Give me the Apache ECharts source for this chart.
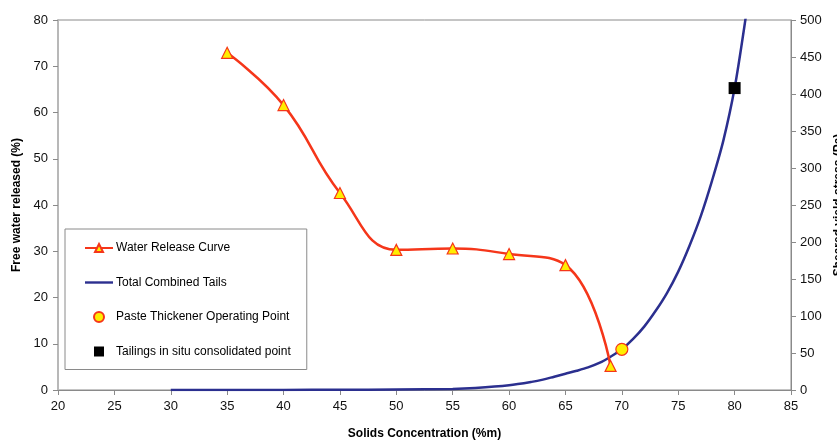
<!DOCTYPE html>
<html><head><meta charset="utf-8">
<script src="https://cdn.jsdelivr.net/npm/echarts@6/dist/echarts.min.js"></script>
<style>html,body{margin:0;padding:0;background:#fff}#c{width:837px;height:440px}</style>
</head><body><div id="c"></div>
<script>
const waterX = [35, 40, 45, 50, 55, 60, 65, 69];
const waterY = [72.9, 61.6, 42.6, 30.3, 30.6, 29.4, 27.0, 5.2];
const tailsX = [30, 35, 40, 45, 50, 55, 57, 60, 62, 63, 64, 65, 66, 67, 68, 69, 70, 71, 72, 73, 74, 75, 76, 77, 78, 79, 80, 81, 81.3];
const tailsY = [0, 0.02, 0.1, 0.3, 0.7, 1.5, 2.8, 6.5, 11, 14, 18, 22, 26, 30.5, 36.5, 45, 55, 69, 86, 107, 131, 160, 195, 235, 283, 337, 408, 505, 540];
const pasteX = [70], pasteY = [55];
const insituX = [80], insituY = [408];
const xTicks = {min: 20, max: 85, interval: 5};
const yLeftTicks = {min: 0, max: 80, interval: 10};
const yRightTicks = {min: 0, max: 500, interval: 50};

const zip = (a, b) => a.map((v, i) => [v, b[i]]);
const font = 'Arial, "Liberation Sans", sans-serif';
const red = '#f5361a', blue = '#2b2f8f';

const chart = echarts.init(document.getElementById('c'), null, {renderer: 'canvas'});
chart.setOption({
  animation: false,
  backgroundColor: '#fff',
  textStyle: {fontFamily: font},
  grid: {left: 58, right: 46, top: 20, bottom: 50, containLabel: false, outerBoundsMode: 'none',
         show: true, borderColor: '#8a8a8a', borderWidth: 1, backgroundColor: 'transparent'},
  legend: {
    orient: 'vertical', left: 65, top: 229,
    borderColor: '#8a8a8a', borderWidth: 1, backgroundColor: '#fff',
    padding: [12, 16, 11, 19], itemGap: 20.5, itemWidth: 28, itemHeight: 10,
    textStyle: {fontFamily: font, fontSize: 12, color: '#000', padding: [0, 0, 0, -2], height: 14, lineHeight: 14},
    data: [
      {name: 'Water Release Curve'},
      {name: 'Total Combined Tails', icon: 'path://M0,0H28V2.4H0Z'},
      {name: 'Paste Thickener Operating Point'},
      {name: 'Tailings in situ consolidated point', icon: 'path://M0,0H9V9H0Z'}
    ]
  },
  xAxis: {
    type: 'value', min: xTicks.min, max: xTicks.max, interval: xTicks.interval,
    name: 'Solids Concentration (%m)', nameLocation: 'middle', nameGap: 38,
    nameTextStyle: {fontFamily: font, fontSize: 12, fontWeight: 'bold', color: '#000'},
    axisLine: {lineStyle: {color: '#8a8a8a', width: 1}},
    axisTick: {show: true, length: 5, lineStyle: {color: '#8a8a8a'}},
    axisLabel: {fontFamily: font, fontSize: 13, color: '#111', margin: 10},
    splitLine: {show: false}
  },
  yAxis: [{
    type: 'value', min: yLeftTicks.min, max: yLeftTicks.max, interval: yLeftTicks.interval,
    name: 'Free water released (%)', nameLocation: 'middle', nameGap: 29, nameRotate: 90,
    nameTextStyle: {fontFamily: font, fontSize: 12, fontWeight: 'bold', color: '#000'},
    axisLine: {show: true, lineStyle: {color: '#b8b8b8', width: 2}},
    axisTick: {show: true, length: 5, lineStyle: {color: '#8a8a8a'}},
    axisLabel: {fontFamily: font, fontSize: 13, color: '#111', margin: 10},
    splitLine: {show: false}
  }, {
    type: 'value', position: 'right', min: yRightTicks.min, max: yRightTicks.max, interval: yRightTicks.interval,
    name: 'Sheared yield stress (Pa)', nameLocation: 'middle', nameGap: 27, nameRotate: 90,
    nameTextStyle: {fontFamily: font, fontSize: 12, fontWeight: 'bold', color: '#000'},
    axisLine: {show: true, lineStyle: {color: '#8a8a8a', width: 1}},
    axisTick: {show: true, length: 5, lineStyle: {color: '#8a8a8a'}},
    axisLabel: {fontFamily: font, fontSize: 13, color: '#111', margin: 9},
    splitLine: {show: false}
  }],
  series: [{
    name: 'Total Combined Tails', type: 'line', yAxisIndex: 1, smooth: 0.3, showSymbol: false, symbol: 'none',
    data: zip(tailsX, tailsY), lineStyle: {color: blue, width: 2.5}, itemStyle: {color: blue}, z: 2
  }, {
    name: 'Water Release Curve', type: 'line', yAxisIndex: 0, smooth: 0.45,
    symbol: 'triangle', symbolSize: 11,
    data: zip(waterX, waterY), lineStyle: {color: red, width: 2.5},
    itemStyle: {color: '#ffee00', borderColor: red, borderWidth: 1.2}, z: 3
  }, {
    name: 'Paste Thickener Operating Point', type: 'scatter', yAxisIndex: 1, symbol: 'circle', symbolSize: 12,
    data: zip(pasteX, pasteY), itemStyle: {color: '#ffee00', borderColor: red, borderWidth: 1.2, opacity: 1}, z: 4
  }, {
    name: 'Tailings in situ consolidated point', type: 'scatter', yAxisIndex: 1, symbol: 'rect', symbolSize: 12,
    data: zip(insituX, insituY), itemStyle: {color: '#000', opacity: 1}, z: 4
  }]
});
</script></body></html>
